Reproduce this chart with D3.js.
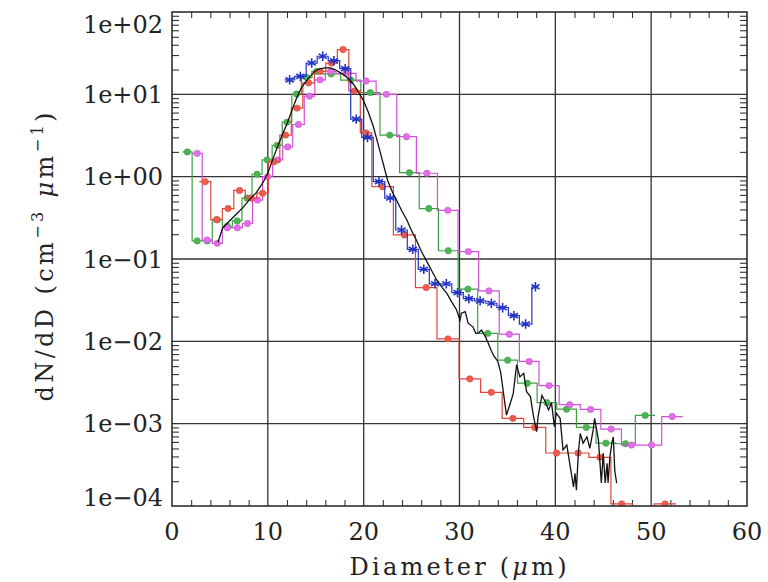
<!DOCTYPE html>
<html>
<head>
<meta charset="utf-8">
<script src="https://cdn.jsdelivr.net/npm/d3@7"></script>
<style>
  body { margin: 0; background: #fff; }
  svg text { font-family: "DejaVu Serif", serif; fill: #222; }
</style>
</head>
<body>
<svg width="768" height="582"></svg>
<script>
// x ticks and log-y ticks
const xTicks = [0, 10, 20, 30, 40, 50, 60];
const yTicks = [1e-4, 1e-3, 1e-2, 1e-1, 1e0, 1e1, 1e2];
const yTickLabels = ["1e\u221204", "1e\u221203", "1e\u221202", "1e\u221201", "1e+00", "1e+01", "1e+02"];

// green histogram: bin edges and dN/dD values
const greenEdges = [1.1, 2.1, 3.15, 4.2, 5.25, 6.3, 7.3, 8.35, 9.4, 10.45, 11.5, 12.5, 13.5, 14.6, 15.6,
  17.6, 19.7, 21.7, 23.75, 25.8, 27.8, 29.85, 31.9, 34.0, 36.05, 38.1, 40.15, 42.2, 44.25, 46.3, 48.35, 50.4];
const greenVals = [2.0, 0.166, 0.166, 0.30, 0.25, 0.29, 0.55, 1.07, 1.6, 2.4, 4.6, 10.1, 16, 19,
  17.7, 14.9, 10.5, 3.2, 1.12, 0.41, 0.126, 0.043, 0.0125, 0.0059, 0.0031, 0.0018, 0.0015, 0.0009, 0.00058, 0.00057, 0.00126];

// magenta histogram
const magentaEdges = [2.1, 3.15, 4.2, 5.25, 6.3, 7.35, 8.4, 9.45, 10.5, 11.55, 12.6, 13.8, 14.9, 16.0, 17.1,
  19.2, 21.3, 23.45, 25.5, 27.7, 29.85, 32.0, 34.15, 36.25, 38.3, 40.4, 42.6, 44.75, 46.9, 49.0, 51.1, 53.3];
const magentaVals = [1.92, 0.17, 0.155, 0.24, 0.24, 0.27, 0.52, 1.0, 1.6, 2.3, 4.3, 9.5, 15, 19,
  18, 14.5, 10, 3.06, 1.1, 0.39, 0.123, 0.041, 0.0122, 0.0057, 0.0029, 0.0017, 0.00149, 0.00086, 0.00055, 0.00055, 0.00122];

// red histogram
const redEdges = [2.85, 4.05, 5.25, 6.45, 7.65, 8.85, 10.05, 11.25, 12.45, 13.65, 14.85, 16.05, 17.25, 18.45, 19.65,
  20.85, 23.1, 25.4, 27.65, 29.95, 32.2, 34.45, 36.7, 39.0, 41.25, 43.5, 45.8, 48.05, 50.3, 52.6];
const redVals = [0.87, 0.30, 0.41, 0.68, 0.55, 0.63, 1.52, 3.2, 6.8, 13.8, 19, 24, 35, 11, 3.4,
  0.755, 0.196, 0.045, 0.0107, 0.0035, 0.0024, 0.00116, 0.0009, 0.00044, 0.00044, 0.00039, 0.000106, 0.00009, 0.000106];

// blue histogram (asterisks)
const blueEdges = [11.75, 12.8, 14.0, 15.15, 16.3, 17.5, 18.65, 19.8, 21.0, 22.2, 23.35, 24.55, 25.7, 26.85,
  28.05, 29.2, 30.4, 31.55, 32.75, 33.9, 35.1, 36.25, 37.55, 38.3];
const blueVals = [15, 16.5, 24, 29, 25.6, 20.5, 5.0, 3.0, 0.87, 0.55, 0.225, 0.131, 0.075, 0.05,
  0.05, 0.039, 0.033, 0.031, 0.029, 0.0256, 0.0205, 0.0162, 0.046];

// black continuous curve
const blackD = [4.8, 5.3, 6.0, 6.7, 7.4, 8.1, 8.8, 9.5, 10.0, 10.5, 11.0, 11.5, 12.0, 12.5, 13.0, 13.5, 14.0, 14.5,
  15.0, 15.5, 16.0, 16.5, 17.0, 17.5, 18.0, 18.5, 19.0, 19.5, 20.0, 20.5, 21.0, 21.5, 22.0, 22.5, 23.0, 23.5,
  24.0, 24.5, 25.0, 25.5, 26.0, 26.6, 27.1, 27.6, 28.2, 28.7, 29.2, 29.7, 30.05, 30.2, 30.6, 30.9, 31.4, 31.7,
  32.0, 32.3, 32.7, 33.0, 33.3, 33.6, 34.0, 34.3, 34.6, 34.9, 35.3, 35.6, 35.96, 36.3, 36.7, 37.0, 37.4, 37.7,
  38.05, 38.2, 38.6, 38.9, 39.3, 39.6, 39.9, 40.1, 40.5, 40.8, 41.2, 41.5, 41.9, 42.05, 42.2, 42.4, 42.6, 42.9,
  43.3, 43.6, 43.95, 44.1, 44.5, 44.8, 45.0, 45.2, 45.4, 45.5, 45.7, 45.9, 46.05, 46.2, 46.4];
const blackN = [0.16, 0.24, 0.29, 0.35, 0.42, 0.53, 0.64, 0.85, 1.1, 1.6, 2.3, 3.2, 4.4, 6.3, 9.0, 12, 14.5, 17,
  19.5, 20.5, 21, 21, 20, 18.5, 17, 15, 13, 10.5, 8.3, 6.0, 4.1, 2.5, 1.5, 0.9, 0.65, 0.5,
  0.38, 0.3, 0.22, 0.17, 0.125, 0.093, 0.072, 0.056, 0.045, 0.038, 0.03, 0.024, 0.018, 0.022, 0.023, 0.0166, 0.015, 0.0125,
  0.0127, 0.0137, 0.0114, 0.0095, 0.0078, 0.0066, 0.0057, 0.0042, 0.0023, 0.00127, 0.00177, 0.0023, 0.0052, 0.0037, 0.0041, 0.00244, 0.00213, 0.00127,
  0.0008, 0.00122, 0.0022, 0.0019, 0.00147, 0.0018, 0.00092, 0.00134, 0.00116, 0.00048, 0.00055, 0.00033, 0.00017, 0.00025, 0.000156, 0.00044, 0.00076, 0.00058,
  0.00069, 0.0005, 0.00084, 0.00116, 0.00063, 0.00019, 0.00044, 0.00019, 0.00033, 0.00019, 0.0004, 0.00058, 0.00069, 0.00027, 0.00019];

const margin = {top: 12, right: 21, bottom: 76, left: 172},
      width = 768 - margin.left - margin.right,
      height = 582 - margin.top - margin.bottom;

const root = d3.select("svg");
const svg = root.append("g")
    .attr("transform", `translate(${margin.left},${margin.top})`);

const x = d3.scaleLinear().domain([0, 60]).range([0, width]);
const y = d3.scaleLog().domain([1e-4, 1e2]).range([height, 0]);

svg.append("clipPath").attr("id", "plot-clip")
  .append("rect").attr("width", width).attr("height", height);

// grid
svg.append("g").selectAll("line")
    .data(xTicks.slice(1, -1))
    .enter().append("line")
    .attr("x1", d => x(d)).attr("x2", d => x(d))
    .attr("y1", 0).attr("y2", height)
    .style("stroke", "#333").style("stroke-width", 1.3);

svg.append("g").selectAll("line")
    .data(yTicks.slice(1, -1))
    .enter().append("line")
    .attr("x1", 0).attr("x2", width)
    .attr("y1", d => y(d)).attr("y2", d => y(d))
    .style("stroke", "#333").style("stroke-width", 1.3);

// minor ticks on all four sides
const yMinor = y.ticks().filter(d => !yTicks.includes(d));
const xMinor = x.ticks(30).filter(d => !xTicks.includes(d));

function tickStyle(g) {
    g.select(".domain").remove();
    g.selectAll("line").style("stroke", "#333").style("stroke-width", 1.1);
}
svg.append("g").call(d3.axisLeft(y).tickValues(yMinor).tickSize(-7).tickFormat("")).call(tickStyle);
svg.append("g").attr("transform", `translate(${width},0)`)
    .call(d3.axisRight(y).tickValues(yMinor).tickSize(-7).tickFormat("")).call(tickStyle);
svg.append("g").attr("transform", `translate(0,${height})`)
    .call(d3.axisBottom(x).tickValues(xMinor).tickSize(-6).tickFormat("")).call(tickStyle);
svg.append("g")
    .call(d3.axisTop(x).tickValues(xMinor).tickSize(-6).tickFormat("")).call(tickStyle);

// tick labels
svg.append("g").selectAll("text")
    .data(yTicks)
    .enter().append("text")
    .attr("x", -9)
    .attr("y", d => Math.min(Math.max(y(d), 12), height - 9))
    .attr("dy", "0.36em")
    .attr("text-anchor", "end")
    .style("font-size", "24px")
    .text((d, i) => yTickLabels[i]);

svg.append("g").selectAll("text")
    .data(xTicks)
    .enter().append("text")
    .attr("x", d => x(d))
    .attr("y", height + 34)
    .attr("text-anchor", "middle")
    .style("font-size", "24px")
    .text(d => d);

// axis titles
const xt = svg.append("text")
    .attr("x", 286).attr("y", height + 69)
    .attr("text-anchor", "middle")
    .attr("textLength", 217).attr("lengthAdjust", "spacing")
    .style("font-size", "24px");
xt.append("tspan").text("Diameter (");
xt.append("tspan").style("font-style", "italic").text("\u03bc");
xt.append("tspan").text("m)");

const yt = root.append("text")
    .attr("transform", "translate(53,257) rotate(-90)")
    .attr("text-anchor", "middle")
    .attr("textLength", 289).attr("lengthAdjust", "spacing")
    .style("font-size", "24px");
yt.append("tspan").text("dN/dD (cm");
yt.append("tspan").attr("dy", -10).style("font-size", "16px").text("\u22123");
yt.append("tspan").attr("dy", 10).text(" ");
yt.append("tspan").style("font-style", "italic").text("\u03bc");
yt.append("tspan").text("m");
yt.append("tspan").attr("dy", -10).style("font-size", "16px").text("\u22121");
yt.append("tspan").attr("dy", 10).text(")");

// series
const plot = svg.append("g").attr("clip-path", "url(#plot-clip)");

function stepPoints(edges, vals) {
    const pts = [];
    vals.forEach((v, i) => {
        pts.push([edges[i], v]);
        pts.push([edges[i + 1], v]);
    });
    return pts;
}

const line = d3.line().x(d => x(d[0])).y(d => y(d[1]));

const asterisk = {
    draw(ctx, size) {
        const r = Math.sqrt(size) / 2;
        for (let k = 0; k < 3; k++) {
            const a = Math.PI / 2 + k * Math.PI / 3;
            ctx.moveTo(r * Math.cos(a), r * Math.sin(a));
            ctx.lineTo(-r * Math.cos(a), -r * Math.sin(a));
        }
    }
};

const series = [
    {edges: greenEdges, vals: greenVals, line: "#3f9f45", mark: "#4cb455", sym: "dot"},
    {edges: magentaEdges, vals: magentaVals, line: "#d050d8", mark: "#e070e6", sym: "dot"},
    {edges: redEdges, vals: redVals, line: "#e0463c", mark: "#ea5c4c", sym: "dot"},
    {edges: blueEdges, vals: blueVals, line: "#2233c4", mark: "#2233c4", sym: "star"}
];

series.forEach(s => {
    plot.append("path")
        .datum(stepPoints(s.edges, s.vals))
        .attr("d", line)
        .style("fill", "none")
        .style("stroke", s.line)
        .style("stroke-width", 1.2);

    const centers = s.vals.map((v, i) => [(s.edges[i] + s.edges[i + 1]) / 2, v]);
    if (s.sym === "dot") {
        plot.append("g").selectAll("circle")
            .data(centers)
            .enter().append("circle")
            .attr("cx", d => x(d[0]))
            .attr("cy", d => y(d[1]))
            .attr("r", 3.2)
            .style("fill", s.mark)
            .style("stroke", s.line)
            .style("stroke-width", 0.6);
    } else {
        plot.append("g").selectAll("path")
            .data(centers)
            .enter().append("path")
            .attr("transform", d => `translate(${x(d[0])},${y(d[1])})`)
            .attr("d", d3.symbol().type(asterisk).size(90))
            .style("fill", "none")
            .style("stroke", s.mark)
            .style("stroke-width", 1.6);
    }
});

plot.append("path")
    .datum(blackD.map((d, i) => [d, blackN[i]]))
    .attr("d", line)
    .style("fill", "none")
    .style("stroke", "#111")
    .style("stroke-width", 1.3);

// frame
svg.append("rect")
    .attr("width", width).attr("height", height)
    .style("fill", "none").style("stroke", "#222").style("stroke-width", 1.5);
</script>
</body>
</html>
